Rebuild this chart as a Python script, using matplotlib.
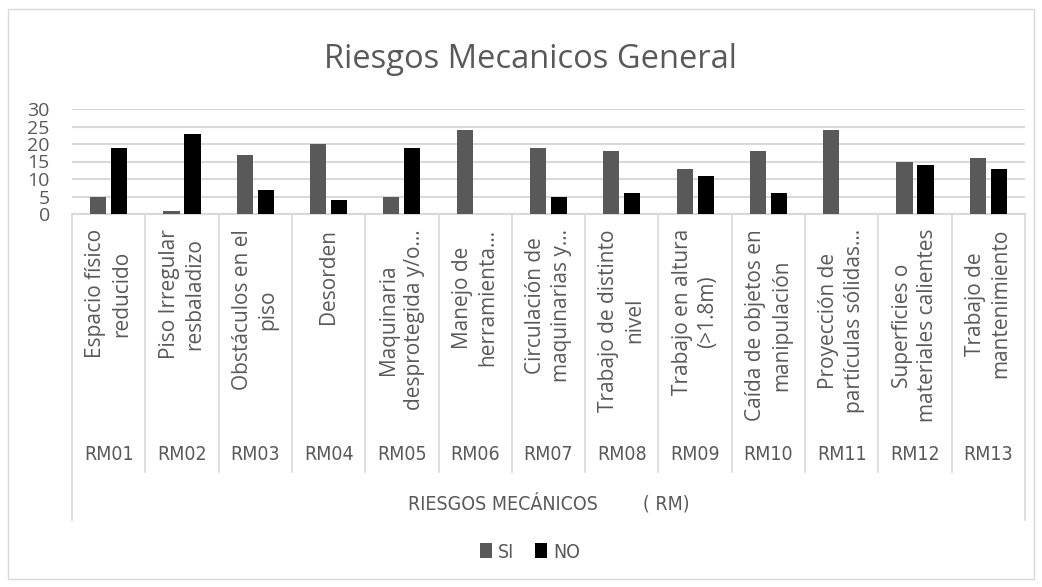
"""Riesgos Mecanicos General - grouped bar chart with two-level category axis."""

import matplotlib
matplotlib.use("Agg")
import matplotlib.pyplot as plt
import numpy as np
from matplotlib.lines import Line2D
from matplotlib.patches import Rectangle
from matplotlib.transforms import blended_transform_factory

plt.rcParams["font.family"] = ["Open Sans", "DejaVu Sans"]
NARROW = {"family": "DejaVu Sans", "stretch": "condensed"}

codes = ["RM01", "RM02", "RM03", "RM04", "RM05", "RM06", "RM07",
         "RM08", "RM09", "RM10", "RM11", "RM12", "RM13"]
names = [
    "Espacio físico\nreducido",
    "Piso Irregular\nresbaladizo",
    "Obstáculos en el\npiso",
    "Desorden",
    "Maquinaria\ndesprotegida y/o…",
    "Manejo de\nherramienta…",
    "Circulación de\nmaquinarias y…",
    "Trabajo de distinto\nnivel",
    "Trabajo en altura\n(>1.8m)",
    "Caída de objetos en\nmanipulación",
    "Proyección de\npartículas sólidas…",
    "Superficies o\nmateriales calientes",
    "Trabajo de\nmantenimiento",
]
si = [5, 1, 17, 20, 5, 24, 19, 18, 13, 18, 24, 15, 16]
no = [19, 23, 7, 4, 19, 0, 5, 6, 11, 6, 0, 14, 13]
group_label = "RIESGOS MECÁNICOS        ( RM)"
title = "Riesgos Mecanicos General"

W, H = 1042, 587
GREY_TXT = "#595959"
GRID = "#d9d9d9"


def fy(py):
    return 1 - py / H


fig = plt.figure(figsize=(W / 100, H / 100), dpi=100)

# outer chart border
fig.patches.append(Rectangle((8 / W, fy(579)), 1026 / W, 570 / H, transform=fig.transFigure,
                             fill=False, edgecolor=GRID, linewidth=1.0))

left, right, top, bottom = 72, 1025, 109, 214
ax = fig.add_axes([left / W, fy(bottom), (right - left) / W, (bottom - top) / H])

x = np.arange(len(codes))
bw = 0.22
ax.bar(x - 0.143, si, width=bw, color="#595959", label="SI", zorder=3)
ax.bar(x + 0.143, no, width=bw, color="#000000", label="NO", zorder=3)

ax.set_xlim(-0.5, len(codes) - 0.5)
ax.set_ylim(0, 30)
ax.set_yticks(range(0, 31, 5))
ax.set_xticks([])
ax.tick_params(axis="y", length=0, pad=16, labelsize=14, labelcolor=GREY_TXT)
ax.grid(axis="y", color=GRID, linewidth=1.5, zorder=0)
for side in ["top", "right", "left"]:
    ax.spines[side].set_visible(False)
ax.spines["bottom"].set_color(GRID)
ax.spines["bottom"].set_linewidth(1.5)

# two-level category axis below the plot
tr = blended_transform_factory(ax.transData, fig.transFigure)
for i in range(len(codes) + 1):
    edge = i in (0, len(codes))
    y_end = 520 if edge else 472
    fig.add_artist(Line2D([i - 0.5, i - 0.5], [fy(bottom), fy(y_end)], transform=tr,
                          color=GRID, linewidth=1.2))

for i, (name, code) in enumerate(zip(names, codes)):
    fig.text(i, fy(229), name, transform=tr, rotation=90, ha="center", va="top",
             multialignment="center", fontsize=15, color=GREY_TXT, linespacing=1.3)
    fig.text(i, fy(455), code, transform=tr, ha="center", va="center",
             fontsize=14, color=GREY_TXT, **NARROW)

fig.text((len(codes) - 1) / 2, fy(503), group_label, transform=tr, ha="center",
         va="center", fontsize=14, color=GREY_TXT, **NARROW)

fig.text(530 / W, fy(60), title, ha="center", va="center", fontsize=23.5, color=GREY_TXT)

handles, labels = ax.get_legend_handles_labels()
fig.legend(handles, labels, loc="center", bbox_to_anchor=(530 / W, fy(552)), ncol=2,
           frameon=False, prop={"family": "DejaVu Sans", "stretch": "condensed", "size": 14},
           labelcolor=GREY_TXT, handlelength=0.6, handleheight=0.8, handletextpad=0.3,
           columnspacing=1.1)

fig.savefig("out.png", dpi=100)
